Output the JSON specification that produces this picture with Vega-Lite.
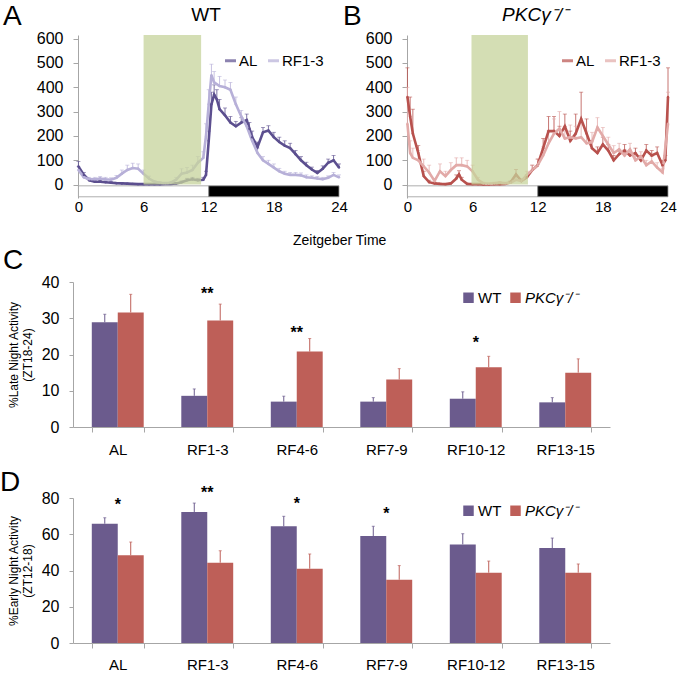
{
  "$schema": "https://vega.github.io/schema/vega-lite/v6.json",
  "padding": {"left": 0, "top": 3, "right": 0, "bottom": 0},
  "config": {
    "font": "Liberation Sans",
    "view": {"stroke": null},
    "axis": {"labelFont": "Liberation Sans", "labelColor": "#000", "domainColor": "#a6a6a6", "tickColor": "#a6a6a6", "grid": false, "titleFont": "Liberation Sans", "titleColor": "#000", "labelOverlap": false},
    "legend": {"labelFont": "Liberation Sans", "labelColor": "#000"},
    "title": {"font": "Liberation Sans", "color": "#000"},
    "text": {"font": "Liberation Sans"}
  },
  "datasets": {
    "phase": [{"t": 0, "t2": 12, "p": "light"}, {"t": 12, "t2": 24, "p": "dark"}],
    "feedA": [{"t": 6, "t2": 11.3}],
    "feedB": [{"t": 5.9, "t2": 11.1}],
    "wt": [
      {"t":0,"s":"AL","v":75,"hi":95},{"t":0.5,"s":"AL","v":40,"hi":50},{"t":1,"s":"AL","v":18,"hi":26},{"t":1.5,"s":"AL","v":12,"hi":17},{"t":2,"s":"AL","v":12,"hi":17},{"t":2.5,"s":"AL","v":10,"hi":15},{"t":3,"s":"AL","v":8,"hi":12},{"t":3.5,"s":"AL","v":6,"hi":9},{"t":4,"s":"AL","v":5,"hi":8},{"t":4.5,"s":"AL","v":4,"hi":6},{"t":5,"s":"AL","v":3,"hi":5},{"t":5.5,"s":"AL","v":2,"hi":4},{"t":6,"s":"AL","v":2,"hi":4},{"t":6.5,"s":"AL","v":2,"hi":3},{"t":7,"s":"AL","v":2,"hi":3},{"t":7.5,"s":"AL","v":2,"hi":3},{"t":8,"s":"AL","v":3,"hi":4},{"t":8.5,"s":"AL","v":3,"hi":5},{"t":9,"s":"AL","v":5,"hi":8},{"t":9.5,"s":"AL","v":10,"hi":15},{"t":10,"s":"AL","v":18,"hi":26},{"t":10.5,"s":"AL","v":22,"hi":30},{"t":11,"s":"AL","v":18,"hi":26},{"t":11.5,"s":"AL","v":20,"hi":30},{"t":11.75,"s":"AL","v":40,"hi":55},{"t":12,"s":"AL","v":180,"hi":220},{"t":12.25,"s":"AL","v":330,"hi":380},{"t":12.5,"s":"AL","v":370,"hi":410},{"t":12.75,"s":"AL","v":350,"hi":390},{"t":13,"s":"AL","v":310,"hi":350},{"t":13.5,"s":"AL","v":285,"hi":315},{"t":14,"s":"AL","v":255,"hi":280},{"t":14.5,"s":"AL","v":240,"hi":260},{"t":15,"s":"AL","v":255,"hi":275},{"t":15.5,"s":"AL","v":265,"hi":290},{"t":15.75,"s":"AL","v":230,"hi":255},{"t":16,"s":"AL","v":195,"hi":220},{"t":16.5,"s":"AL","v":155,"hi":175},{"t":17,"s":"AL","v":215,"hi":235},{"t":17.5,"s":"AL","v":222,"hi":242},{"t":18,"s":"AL","v":195,"hi":215},{"t":18.5,"s":"AL","v":175,"hi":195},{"t":19,"s":"AL","v":160,"hi":180},{"t":19.5,"s":"AL","v":150,"hi":170},{"t":20,"s":"AL","v":125,"hi":140},{"t":20.5,"s":"AL","v":100,"hi":115},{"t":21,"s":"AL","v":80,"hi":92},{"t":21.5,"s":"AL","v":62,"hi":72},{"t":22,"s":"AL","v":48,"hi":58},{"t":22.5,"s":"AL","v":65,"hi":77},{"t":23,"s":"AL","v":90,"hi":105},{"t":23.5,"s":"AL","v":100,"hi":120},{"t":24,"s":"AL","v":70,"hi":85},
      {"t":0,"s":"RF1-3","v":60,"hi":75},{"t":0.5,"s":"RF1-3","v":30,"hi":40},{"t":1,"s":"RF1-3","v":22,"hi":30},{"t":1.5,"s":"RF1-3","v":22,"hi":30},{"t":2,"s":"RF1-3","v":25,"hi":33},{"t":2.5,"s":"RF1-3","v":22,"hi":30},{"t":3,"s":"RF1-3","v":20,"hi":28},{"t":3.5,"s":"RF1-3","v":28,"hi":38},{"t":4,"s":"RF1-3","v":45,"hi":60},{"t":4.5,"s":"RF1-3","v":60,"hi":80},{"t":5,"s":"RF1-3","v":68,"hi":88},{"t":5.5,"s":"RF1-3","v":65,"hi":85},{"t":6,"s":"RF1-3","v":45,"hi":60},{"t":6.5,"s":"RF1-3","v":25,"hi":35},{"t":7,"s":"RF1-3","v":12,"hi":17},{"t":7.5,"s":"RF1-3","v":8,"hi":12},{"t":8,"s":"RF1-3","v":6,"hi":9},{"t":8.5,"s":"RF1-3","v":8,"hi":12},{"t":9,"s":"RF1-3","v":20,"hi":30},{"t":9.5,"s":"RF1-3","v":45,"hi":65},{"t":10,"s":"RF1-3","v":50,"hi":70},{"t":10.5,"s":"RF1-3","v":60,"hi":80},{"t":11,"s":"RF1-3","v":90,"hi":115},{"t":11.5,"s":"RF1-3","v":110,"hi":135},{"t":11.75,"s":"RF1-3","v":200,"hi":250},{"t":12,"s":"RF1-3","v":330,"hi":390},{"t":12.25,"s":"RF1-3","v":450,"hi":495},{"t":12.5,"s":"RF1-3","v":420,"hi":465},{"t":13,"s":"RF1-3","v":405,"hi":445},{"t":13.5,"s":"RF1-3","v":400,"hi":430},{"t":14,"s":"RF1-3","v":390,"hi":420},{"t":14.5,"s":"RF1-3","v":330,"hi":360},{"t":15,"s":"RF1-3","v":280,"hi":305},{"t":15.5,"s":"RF1-3","v":240,"hi":265},{"t":16,"s":"RF1-3","v":180,"hi":200},{"t":16.5,"s":"RF1-3","v":130,"hi":150},{"t":17,"s":"RF1-3","v":100,"hi":115},{"t":17.5,"s":"RF1-3","v":85,"hi":100},{"t":18,"s":"RF1-3","v":70,"hi":85},{"t":18.5,"s":"RF1-3","v":55,"hi":67},{"t":19,"s":"RF1-3","v":45,"hi":55},{"t":19.5,"s":"RF1-3","v":40,"hi":50},{"t":20,"s":"RF1-3","v":40,"hi":50},{"t":20.5,"s":"RF1-3","v":38,"hi":48},{"t":21,"s":"RF1-3","v":30,"hi":40},{"t":21.5,"s":"RF1-3","v":28,"hi":36},{"t":22,"s":"RF1-3","v":25,"hi":33},{"t":22.5,"s":"RF1-3","v":22,"hi":30},{"t":23,"s":"RF1-3","v":28,"hi":36},{"t":23.5,"s":"RF1-3","v":40,"hi":50},{"t":24,"s":"RF1-3","v":30,"hi":40}
    ],
    "pkc": [
      {"t":0,"s":"AL","v":360,"hi":480},{"t":0.25,"s":"AL","v":280,"hi":360},{"t":0.5,"s":"AL","v":210,"hi":310},{"t":1,"s":"AL","v":130,"hi":160},{"t":1.5,"s":"AL","v":35,"hi":55},{"t":2,"s":"AL","v":10,"hi":18},{"t":2.5,"s":"AL","v":5,"hi":10},{"t":3,"s":"AL","v":3,"hi":6},{"t":3.5,"s":"AL","v":2,"hi":4},{"t":4,"s":"AL","v":5,"hi":8},{"t":4.5,"s":"AL","v":25,"hi":40},{"t":4.75,"s":"AL","v":42,"hi":57},{"t":5,"s":"AL","v":20,"hi":30},{"t":5.5,"s":"AL","v":3,"hi":6},{"t":6,"s":"AL","v":2,"hi":4},{"t":6.5,"s":"AL","v":2,"hi":3},{"t":7,"s":"AL","v":1,"hi":2},{"t":7.5,"s":"AL","v":1,"hi":2},{"t":8,"s":"AL","v":2,"hi":3},{"t":8.5,"s":"AL","v":2,"hi":3},{"t":9,"s":"AL","v":3,"hi":5},{"t":9.5,"s":"AL","v":10,"hi":15},{"t":10,"s":"AL","v":42,"hi":62},{"t":10.5,"s":"AL","v":15,"hi":23},{"t":11,"s":"AL","v":30,"hi":40},{"t":11.5,"s":"AL","v":60,"hi":80},{"t":12,"s":"AL","v":80,"hi":105},{"t":12.5,"s":"AL","v":150,"hi":190},{"t":13,"s":"AL","v":220,"hi":280},{"t":13.5,"s":"AL","v":220,"hi":280},{"t":14,"s":"AL","v":200,"hi":240},{"t":14.5,"s":"AL","v":240,"hi":290},{"t":15,"s":"AL","v":180,"hi":220},{"t":15.5,"s":"AL","v":210,"hi":290},{"t":16,"s":"AL","v":270,"hi":380},{"t":16.5,"s":"AL","v":210,"hi":270},{"t":17,"s":"AL","v":150,"hi":180},{"t":17.5,"s":"AL","v":130,"hi":155},{"t":18,"s":"AL","v":165,"hi":195},{"t":18.5,"s":"AL","v":140,"hi":165},{"t":19,"s":"AL","v":100,"hi":120},{"t":19.5,"s":"AL","v":125,"hi":145},{"t":20,"s":"AL","v":140,"hi":165},{"t":20.5,"s":"AL","v":120,"hi":140},{"t":21,"s":"AL","v":130,"hi":150},{"t":21.5,"s":"AL","v":100,"hi":120},{"t":22,"s":"AL","v":140,"hi":165},{"t":22.5,"s":"AL","v":120,"hi":140},{"t":23,"s":"AL","v":130,"hi":155},{"t":23.5,"s":"AL","v":80,"hi":100},{"t":23.75,"s":"AL","v":100,"hi":120},{"t":24,"s":"AL","v":360,"hi":480},
      {"t":0,"s":"RF1-3","v":250,"hi":400},{"t":0.25,"s":"RF1-3","v":130,"hi":180},{"t":0.5,"s":"RF1-3","v":110,"hi":150},{"t":1,"s":"RF1-3","v":100,"hi":140},{"t":1.5,"s":"RF1-3","v":75,"hi":105},{"t":2,"s":"RF1-3","v":50,"hi":80},{"t":2.5,"s":"RF1-3","v":15,"hi":25},{"t":3,"s":"RF1-3","v":55,"hi":85},{"t":3.5,"s":"RF1-3","v":35,"hi":55},{"t":4,"s":"RF1-3","v":60,"hi":90},{"t":4.5,"s":"RF1-3","v":80,"hi":110},{"t":5,"s":"RF1-3","v":80,"hi":110},{"t":5.5,"s":"RF1-3","v":75,"hi":100},{"t":6,"s":"RF1-3","v":55,"hi":80},{"t":6.5,"s":"RF1-3","v":20,"hi":30},{"t":7,"s":"RF1-3","v":5,"hi":10},{"t":7.5,"s":"RF1-3","v":3,"hi":6},{"t":8,"s":"RF1-3","v":5,"hi":10},{"t":8.5,"s":"RF1-3","v":8,"hi":13},{"t":9,"s":"RF1-3","v":5,"hi":10},{"t":9.5,"s":"RF1-3","v":8,"hi":13},{"t":10,"s":"RF1-3","v":20,"hi":30},{"t":10.5,"s":"RF1-3","v":15,"hi":23},{"t":11,"s":"RF1-3","v":40,"hi":55},{"t":11.5,"s":"RF1-3","v":60,"hi":80},{"t":12,"s":"RF1-3","v":80,"hi":105},{"t":12.5,"s":"RF1-3","v":120,"hi":155},{"t":13,"s":"RF1-3","v":170,"hi":220},{"t":13.5,"s":"RF1-3","v":210,"hi":270},{"t":14,"s":"RF1-3","v":230,"hi":300},{"t":14.5,"s":"RF1-3","v":190,"hi":240},{"t":15,"s":"RF1-3","v":195,"hi":245},{"t":15.5,"s":"RF1-3","v":190,"hi":240},{"t":16,"s":"RF1-3","v":195,"hi":255},{"t":16.5,"s":"RF1-3","v":170,"hi":220},{"t":17,"s":"RF1-3","v":175,"hi":215},{"t":17.5,"s":"RF1-3","v":235,"hi":275},{"t":18,"s":"RF1-3","v":200,"hi":235},{"t":18.5,"s":"RF1-3","v":165,"hi":195},{"t":19,"s":"RF1-3","v":130,"hi":160},{"t":19.5,"s":"RF1-3","v":145,"hi":170},{"t":20,"s":"RF1-3","v":120,"hi":145},{"t":20.5,"s":"RF1-3","v":145,"hi":170},{"t":21,"s":"RF1-3","v":100,"hi":120},{"t":21.5,"s":"RF1-3","v":115,"hi":135},{"t":22,"s":"RF1-3","v":80,"hi":100},{"t":22.5,"s":"RF1-3","v":95,"hi":115},{"t":23,"s":"RF1-3","v":70,"hi":90},{"t":23.5,"s":"RF1-3","v":50,"hi":65},{"t":24,"s":"RF1-3","v":250,"hi":380}
    ],
    "late": [
      {"cat":"AL","g":"WT","v":28.9,"hi":31.1},{"cat":"AL","g":"KO","v":31.6,"hi":36.6},
      {"cat":"RF1-3","g":"WT","v":8.6,"hi":10.5},{"cat":"RF1-3","g":"KO","v":29.4,"hi":33.9},
      {"cat":"RF4-6","g":"WT","v":7.0,"hi":8.5},{"cat":"RF4-6","g":"KO","v":20.8,"hi":24.4},
      {"cat":"RF7-9","g":"WT","v":7.0,"hi":8.1},{"cat":"RF7-9","g":"KO","v":13.1,"hi":16.1},
      {"cat":"RF10-12","g":"WT","v":7.8,"hi":9.7},{"cat":"RF10-12","g":"KO","v":16.5,"hi":19.5},
      {"cat":"RF13-15","g":"WT","v":6.8,"hi":8.1},{"cat":"RF13-15","g":"KO","v":15.0,"hi":18.8}
    ],
    "early": [
      {"cat":"AL","g":"WT","v":65.8,"hi":69.1},{"cat":"AL","g":"KO","v":48.4,"hi":55.7},
      {"cat":"RF1-3","g":"WT","v":72.3,"hi":77.2},{"cat":"RF1-3","g":"KO","v":44.3,"hi":50.9},
      {"cat":"RF4-6","g":"WT","v":64.4,"hi":69.9},{"cat":"RF4-6","g":"KO","v":41.0,"hi":49.1},
      {"cat":"RF7-9","g":"WT","v":59.0,"hi":64.4},{"cat":"RF7-9","g":"KO","v":34.9,"hi":42.7},
      {"cat":"RF10-12","g":"WT","v":54.4,"hi":60.3},{"cat":"RF10-12","g":"KO","v":38.8,"hi":45.2},
      {"cat":"RF13-15","g":"WT","v":52.4,"hi":57.9},{"cat":"RF13-15","g":"KO","v":38.8,"hi":43.6}
    ],
    "lateStars": [{"cat":"RF1-3","y":37.9,"lab":"**"},{"cat":"RF4-6","y":27,"lab":"**"},{"cat":"RF10-12","y":24.3,"lab":"*"}],
    "earlyStars": [{"cat":"AL","y":78.2,"lab":"*"},{"cat":"RF1-3","y":84.8,"lab":"**"},{"cat":"RF4-6","y":79.1,"lab":"*"},{"cat":"RF7-9","y":73.6,"lab":"*"}]
  },
  "bounds": "flush",
  "spacing": 247,
  "resolve": {"scale": {"color": "independent", "x": "independent", "y": "independent", "fill": "independent"}, "legend": {"color": "independent"}},
  "vconcat": [
    {
      "hconcat": [
        {
          "width": 266, "height": 163,
          "title": {"text": "A", "anchor": "start", "frame": "group", "fontSize": 28, "fontWeight": "normal", "dx": -70, "dy": 33, "offset": 8},
          "layer": [
            {"data": {"name": "phase"}, "mark": {"type": "rect", "stroke": "#999999", "strokeWidth": 0.8},
             "encoding": {
               "x": {"field": "t", "type": "quantitative", "title": null, "scale": {"domain": [-0.5, 24], "nice": false, "zero": false}, "axis": {"values": [0, 6, 12, 18, 24], "tickCount": 20, "domain": false, "ticks": false, "labelFontSize": 15, "labelPadding": 1, "labelFlush": false, "title": null}},
               "x2": {"field": "t2"},
               "y": {"datum": -5, "type": "quantitative", "scale": {"domain": [-55, 615], "nice": false, "zero": false}, "axis": {"values": [0, 100, 200, 300, 400, 500, 600], "tickCount": 20, "labelOverlap": false, "offset": -5, "tickSize": 5, "labelFontSize": 16, "labelPadding": 10, "title": null}},
               "y2": {"datum": -50},
               "fill": {"field": "p", "type": "nominal", "scale": {"domain": ["light", "dark"], "range": ["#ffffff", "#000000"]}, "legend": null}
             }},
            {"data": {"name": "wt"}, "mark": {"type": "rule", "strokeWidth": 0.8},
             "encoding": {"x": {"field": "t", "type": "quantitative", "title": null}, "y": {"field": "v", "type": "quantitative", "title": null}, "y2": {"field": "hi"}, "color": {"field": "s", "type": "nominal"}}},
            {"data": {"name": "wt"}, "mark": {"type": "tick", "orient": "horizontal", "size": 4, "thickness": 0.8},
             "encoding": {"x": {"field": "t", "type": "quantitative", "title": null}, "y": {"field": "hi", "type": "quantitative", "title": null}, "color": {"field": "s", "type": "nominal"}}},
            {"data": {"name": "wt"}, "mark": {"type": "line", "strokeWidth": 2.6},
             "encoding": {"x": {"field": "t", "type": "quantitative", "title": null}, "y": {"field": "v", "type": "quantitative", "title": null},
               "color": {"field": "s", "type": "nominal", "scale": {"domain": ["AL", "RF1-3"], "range": ["#5c4f8f", "#b7b0d8"]},
                 "legend": {"title": null, "orient": "none", "legendX": 150, "legendY": 18, "direction": "horizontal", "symbolType": "stroke", "symbolStrokeWidth": 3, "symbolSize": 120, "labelFontSize": 15, "columnPadding": 4, "labelOffset": 1}}}},
            {"data": {"name": "wt"}, "mark": {"type": "point", "filled": true, "size": 6, "opacity": 1},
             "encoding": {"x": {"field": "t", "type": "quantitative", "title": null}, "y": {"field": "v", "type": "quantitative", "title": null}, "color": {"field": "s", "type": "nominal"}}},
            {"data": {"name": "feedA"}, "mark": {"type": "rect", "color": "#c5d39b", "opacity": 0.75},
             "encoding": {"x": {"field": "t", "type": "quantitative", "title": null}, "x2": {"field": "t2"}, "y": {"datum": 0, "type": "quantitative"}, "y2": {"datum": 615}}},
            {"data": {"values": [{"lab": "WT"}]}, "mark": {"type": "text", "fontSize": 19, "baseline": "middle"},
             "encoding": {"x": {"datum": 11.75, "type": "quantitative"}, "y": {"datum": 697, "type": "quantitative"}, "text": {"field": "lab"}}}
          ]
        },
        {
          "width": 266, "height": 163,
          "title": {"text": "B", "anchor": "start", "frame": "group", "fontSize": 28, "fontWeight": "normal", "dx": -59, "dy": 33, "offset": 8},
          "layer": [
            {"data": {"name": "phase"}, "mark": {"type": "rect", "stroke": "#999999", "strokeWidth": 0.8},
             "encoding": {
               "x": {"field": "t", "type": "quantitative", "title": null, "scale": {"domain": [-0.5, 24], "nice": false, "zero": false}, "axis": {"values": [0, 6, 12, 18, 24], "tickCount": 20, "domain": false, "ticks": false, "labelFontSize": 15, "labelPadding": 1, "labelFlush": false, "title": null}},
               "x2": {"field": "t2"},
               "y": {"datum": -5, "type": "quantitative", "scale": {"domain": [-55, 615], "nice": false, "zero": false}, "axis": {"values": [0, 100, 200, 300, 400, 500, 600], "tickCount": 20, "labelOverlap": false, "offset": -5, "tickSize": 5, "labelFontSize": 16, "labelPadding": 10, "title": null}},
               "y2": {"datum": -50},
               "fill": {"field": "p", "type": "nominal", "scale": {"domain": ["light", "dark"], "range": ["#ffffff", "#000000"]}, "legend": null}
             }},
            {"data": {"name": "pkc"}, "mark": {"type": "rule", "strokeWidth": 0.8},
             "encoding": {"x": {"field": "t", "type": "quantitative", "title": null}, "y": {"field": "v", "type": "quantitative", "title": null}, "y2": {"field": "hi"}, "color": {"field": "s", "type": "nominal"}}},
            {"data": {"name": "pkc"}, "mark": {"type": "tick", "orient": "horizontal", "size": 4, "thickness": 0.8},
             "encoding": {"x": {"field": "t", "type": "quantitative", "title": null}, "y": {"field": "hi", "type": "quantitative", "title": null}, "color": {"field": "s", "type": "nominal"}}},
            {"data": {"name": "pkc"}, "mark": {"type": "line", "strokeWidth": 2.6},
             "encoding": {"x": {"field": "t", "type": "quantitative", "title": null}, "y": {"field": "v", "type": "quantitative", "title": null},
               "color": {"field": "s", "type": "nominal", "scale": {"domain": ["AL", "RF1-3"], "range": ["#b8514d", "#e2aaa8"]},
                 "legend": {"title": null, "orient": "none", "legendX": 158, "legendY": 18, "direction": "horizontal", "symbolType": "stroke", "symbolStrokeWidth": 3, "symbolSize": 120, "labelFontSize": 15, "columnPadding": 4, "labelOffset": 1}}}},
            {"data": {"name": "pkc"}, "mark": {"type": "point", "filled": true, "size": 6, "opacity": 1},
             "encoding": {"x": {"field": "t", "type": "quantitative", "title": null}, "y": {"field": "v", "type": "quantitative", "title": null}, "color": {"field": "s", "type": "nominal"}}},
            {"data": {"name": "feedB"}, "mark": {"type": "rect", "color": "#c5d39b", "opacity": 0.75},
             "encoding": {"x": {"field": "t", "type": "quantitative", "title": null}, "x2": {"field": "t2"}, "y": {"datum": 0, "type": "quantitative"}, "y2": {"datum": 615}}},
            {"data": {"values": [{"lab": "PKCγ⁻/⁻"}]}, "mark": {"type": "text", "fontSize": 19, "fontStyle": "italic", "baseline": "middle"},
             "encoding": {"x": {"datum": 11.75, "type": "quantitative"}, "y": {"datum": 697, "type": "quantitative"}, "text": {"field": "lab"}}}
          ]
        }
      ],
      "spacing": 63,
      "bounds": "flush",
      "title": {"text": "Zeitgeber Time", "orient": "bottom", "anchor": "middle", "fontSize": 14, "fontWeight": "normal", "offset": 20},
      "resolve": {"scale": {"color": "independent", "x": "independent", "y": "independent", "fill": "independent"}, "legend": {"color": "independent"}}
    },
    {
      "vconcat": [
        {
          "width": 537, "height": 145,
          "title": {"text": "C", "anchor": "start", "frame": "group", "fontSize": 28, "fontWeight": "normal", "dx": -70, "dy": 9, "offset": 8},
          "layer": [
            {"data": {"name": "late"}, "mark": {"type": "bar"},
             "encoding": {
               "x": {"field": "cat", "type": "nominal", "sort": ["AL", "RF1-3", "RF4-6", "RF7-9", "RF10-12", "RF13-15"], "scale": {"paddingInner": 0.42, "paddingOuter": 0.21}, "axis": {"title": null, "labelAngle": 0, "labelFontSize": 15, "labelPadding": 10, "tickBand": "extent", "tickSize": 5}},
               "xOffset": {"field": "g", "type": "nominal", "sort": ["WT", "KO"], "scale": {"paddingInner": 0, "paddingOuter": 0}},
               "y": {"field": "v", "type": "quantitative", "scale": {"domain": [0, 40], "nice": false}, "axis": {"values": [0, 10, 20, 30, 40], "tickCount": 20, "labelOverlap": false, "tickSize": 4, "labelFontSize": 16, "labelPadding": 10, "title": ["%Late Night Activity", "(ZT18-24)"], "titleFontSize": 12, "titleFontWeight": "normal", "titlePadding": 7, "titleLineHeight": 14}},
               "color": {"field": "g", "type": "nominal", "scale": {"domain": ["WT", "KO"], "range": ["#6b5b8d", "#be5f58"]},
                 "legend": {"title": null, "orient": "none", "legendX": 388, "legendY": 8, "direction": "horizontal", "symbolType": "square", "symbolSize": 110, "symbolStrokeWidth": 0, "labelFontSize": 15, "columnPadding": 6, "labelOffset": 2,
                   "labelExpr": "datum.label == 'KO' ? 'PKCγ⁻/⁻' : datum.label",
                   "encode": {"labels": {"update": {"fontStyle": {"signal": "datum.value == 'KO' ? 'italic' : 'normal'"}}}}}}
             }},
            {"data": {"name": "late"}, "mark": {"type": "rule", "strokeWidth": 1},
             "encoding": {"x": {"field": "cat", "type": "nominal", "sort": ["AL", "RF1-3", "RF4-6", "RF7-9", "RF10-12", "RF13-15"]}, "xOffset": {"field": "g", "type": "nominal", "sort": ["WT", "KO"]}, "y": {"field": "v", "type": "quantitative"}, "y2": {"field": "hi"}, "color": {"field": "g", "type": "nominal"}}},
            {"data": {"name": "late"}, "mark": {"type": "tick", "orient": "horizontal", "size": 3, "thickness": 1},
             "encoding": {"x": {"field": "cat", "type": "nominal", "sort": ["AL", "RF1-3", "RF4-6", "RF7-9", "RF10-12", "RF13-15"]}, "xOffset": {"field": "g", "type": "nominal", "sort": ["WT", "KO"]}, "y": {"field": "hi", "type": "quantitative"}, "color": {"field": "g", "type": "nominal"}}},
            {"data": {"name": "lateStars"}, "mark": {"type": "text", "fontSize": 16, "fontWeight": "bold", "baseline": "middle", "dy": 4},
             "encoding": {"x": {"field": "cat", "type": "nominal", "sort": ["AL", "RF1-3", "RF4-6", "RF7-9", "RF10-12", "RF13-15"]}, "y": {"field": "y", "type": "quantitative"}, "text": {"field": "lab"}}}
          ]
        },
        {
          "width": 537, "height": 145,
          "title": {"text": "D", "anchor": "start", "frame": "group", "fontSize": 28, "fontWeight": "normal", "dx": -73, "dy": 18, "offset": 6},
          "layer": [
            {"data": {"name": "early"}, "mark": {"type": "bar"},
             "encoding": {
               "x": {"field": "cat", "type": "nominal", "sort": ["AL", "RF1-3", "RF4-6", "RF7-9", "RF10-12", "RF13-15"], "scale": {"paddingInner": 0.42, "paddingOuter": 0.21}, "axis": {"title": null, "labelAngle": 0, "labelFontSize": 15, "labelPadding": 9, "tickBand": "extent", "tickSize": 5}},
               "xOffset": {"field": "g", "type": "nominal", "sort": ["WT", "KO"], "scale": {"paddingInner": 0, "paddingOuter": 0}},
               "y": {"field": "v", "type": "quantitative", "scale": {"domain": [0, 80], "nice": false}, "axis": {"values": [0, 20, 40, 60, 80], "tickCount": 20, "labelOverlap": false, "tickSize": 4, "labelFontSize": 16, "labelPadding": 10, "title": ["%Early Night Activity", "(ZT12-18)"], "titleFontSize": 12, "titleFontWeight": "normal", "titlePadding": 7, "titleLineHeight": 14}},
               "color": {"field": "g", "type": "nominal", "scale": {"domain": ["WT", "KO"], "range": ["#6b5b8d", "#be5f58"]},
                 "legend": {"title": null, "orient": "none", "legendX": 388, "legendY": 5, "direction": "horizontal", "symbolType": "square", "symbolSize": 110, "symbolStrokeWidth": 0, "labelFontSize": 15, "columnPadding": 6, "labelOffset": 2,
                   "labelExpr": "datum.label == 'KO' ? 'PKCγ⁻/⁻' : datum.label",
                   "encode": {"labels": {"update": {"fontStyle": {"signal": "datum.value == 'KO' ? 'italic' : 'normal'"}}}}}}
             }},
            {"data": {"name": "early"}, "mark": {"type": "rule", "strokeWidth": 1},
             "encoding": {"x": {"field": "cat", "type": "nominal", "sort": ["AL", "RF1-3", "RF4-6", "RF7-9", "RF10-12", "RF13-15"]}, "xOffset": {"field": "g", "type": "nominal", "sort": ["WT", "KO"]}, "y": {"field": "v", "type": "quantitative"}, "y2": {"field": "hi"}, "color": {"field": "g", "type": "nominal"}}},
            {"data": {"name": "early"}, "mark": {"type": "tick", "orient": "horizontal", "size": 3, "thickness": 1},
             "encoding": {"x": {"field": "cat", "type": "nominal", "sort": ["AL", "RF1-3", "RF4-6", "RF7-9", "RF10-12", "RF13-15"]}, "xOffset": {"field": "g", "type": "nominal", "sort": ["WT", "KO"]}, "y": {"field": "hi", "type": "quantitative"}, "color": {"field": "g", "type": "nominal"}}},
            {"data": {"name": "earlyStars"}, "mark": {"type": "text", "fontSize": 16, "fontWeight": "bold", "baseline": "middle", "dy": 4},
             "encoding": {"x": {"field": "cat", "type": "nominal", "sort": ["AL", "RF1-3", "RF4-6", "RF7-9", "RF10-12", "RF13-15"]}, "y": {"field": "y", "type": "quantitative"}, "text": {"field": "lab"}}}
          ]
        }
      ],
      "spacing": 71,
      "bounds": "flush",
      "resolve": {"scale": {"color": "independent", "y": "independent", "x": "independent"}, "legend": {"color": "independent"}}
    }
  ]
}
